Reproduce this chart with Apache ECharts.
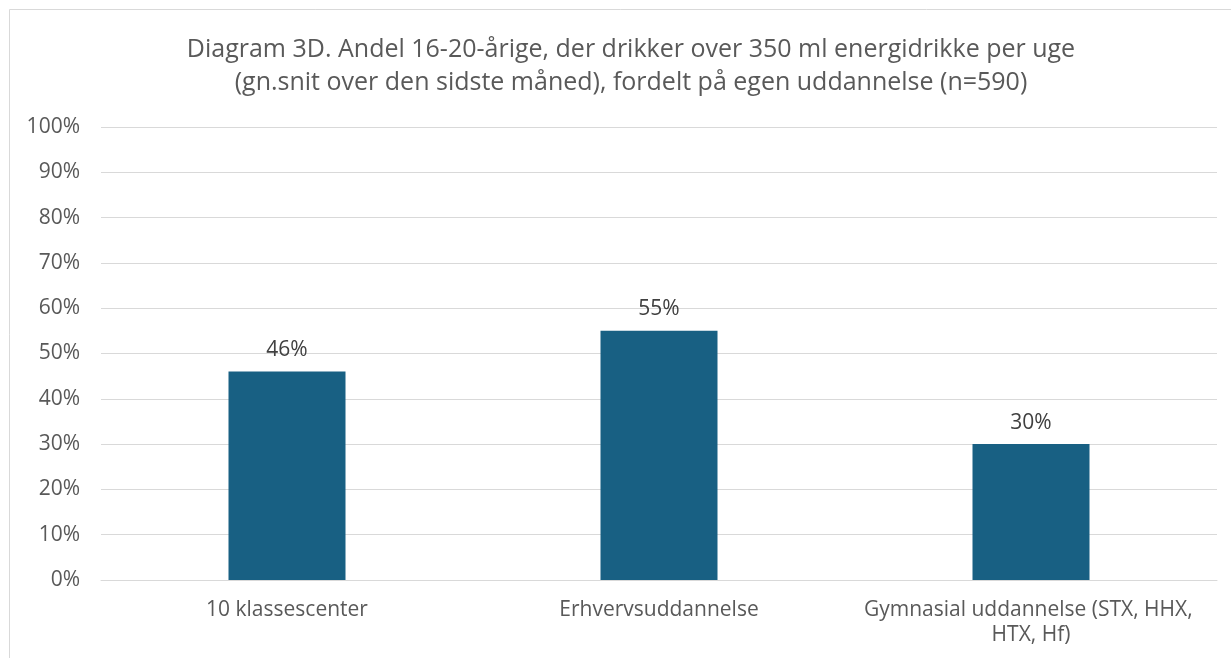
<!DOCTYPE html>
<html>
<head>
<meta charset="utf-8">
<script src="https://cdn.jsdelivr.net/npm/echarts@6/dist/echarts.min.js"></script>
<style>
html,body{margin:0;padding:0;background:#fff;}
#c{width:1231px;height:658px;}
</style>
</head>
<body>
<div id="c"></div>
<script>
const titleText = "Diagram 3D. Andel 16-20-årige, der drikker over 350 ml energidrikke per uge\n(gn.snit over den sidste måned), fordelt på egen uddannelse (n=590)";
const categories = ["10 klassescenter", "Erhvervsuddannelse", "Gymnasial uddannelse (STX, HHX, HTX, Hf)"];
const values = [46, 55, 30];
const yTicks = [0, 10, 20, 30, 40, 50, 60, 70, 80, 90, 100];

const font = "'Open Sans', 'Liberation Sans', sans-serif";
const textColor = "#595959";
const chart = echarts.init(document.getElementById('c'), null, {renderer: 'canvas'});
chart.setOption({
  animation: false,
  backgroundColor: '#fff',
  graphic: [{
    type: 'rect',
    shape: {x: 9.5, y: 9.5, width: 1240, height: 670},
    style: {fill: 'none', stroke: '#d9d9d9', lineWidth: 1},
    silent: true
  }],
  title: {
    text: titleText,
    left: 626,
    textAlign: 'center',
    top: 28,
    textStyle: {fontFamily: font, fontSize: 25, fontWeight: 'normal', color: textColor, lineHeight: 33}
  },
  grid: {left: 101, right: 14, top: 127, bottom: 78, containLabel: false},
  xAxis: {
    type: 'category',
    data: categories,
    axisTick: {show: false},
    axisLine: {show: true, lineStyle: {color: '#d9d9d9', width: 1}},
    axisLabel: {
      color: textColor, fontFamily: font, fontSize: 21, margin: 18,
      width: 350, overflow: 'break', lineHeight: 25, interval: 0
    }
  },
  yAxis: {
    type: 'value',
    min: 0, max: 100, interval: 10,
    axisLine: {show: false},
    axisTick: {show: false},
    splitLine: {lineStyle: {color: '#d9d9d9', width: 1}},
    axisLabel: {
      color: textColor, fontFamily: font, fontSize: 21, margin: 21,
      formatter: function (v) { return yTicks.indexOf(v) >= 0 ? v + '%' : ''; }
    }
  },
  series: [{
    type: 'bar',
    data: values,
    barWidth: 117,
    itemStyle: {color: '#186083'},
    label: {
      show: true, position: 'top', distance: 11,
      color: '#404040', fontFamily: font, fontSize: 21,
      formatter: '{c}%'
    }
  }]
});
</script>
</body>
</html>
